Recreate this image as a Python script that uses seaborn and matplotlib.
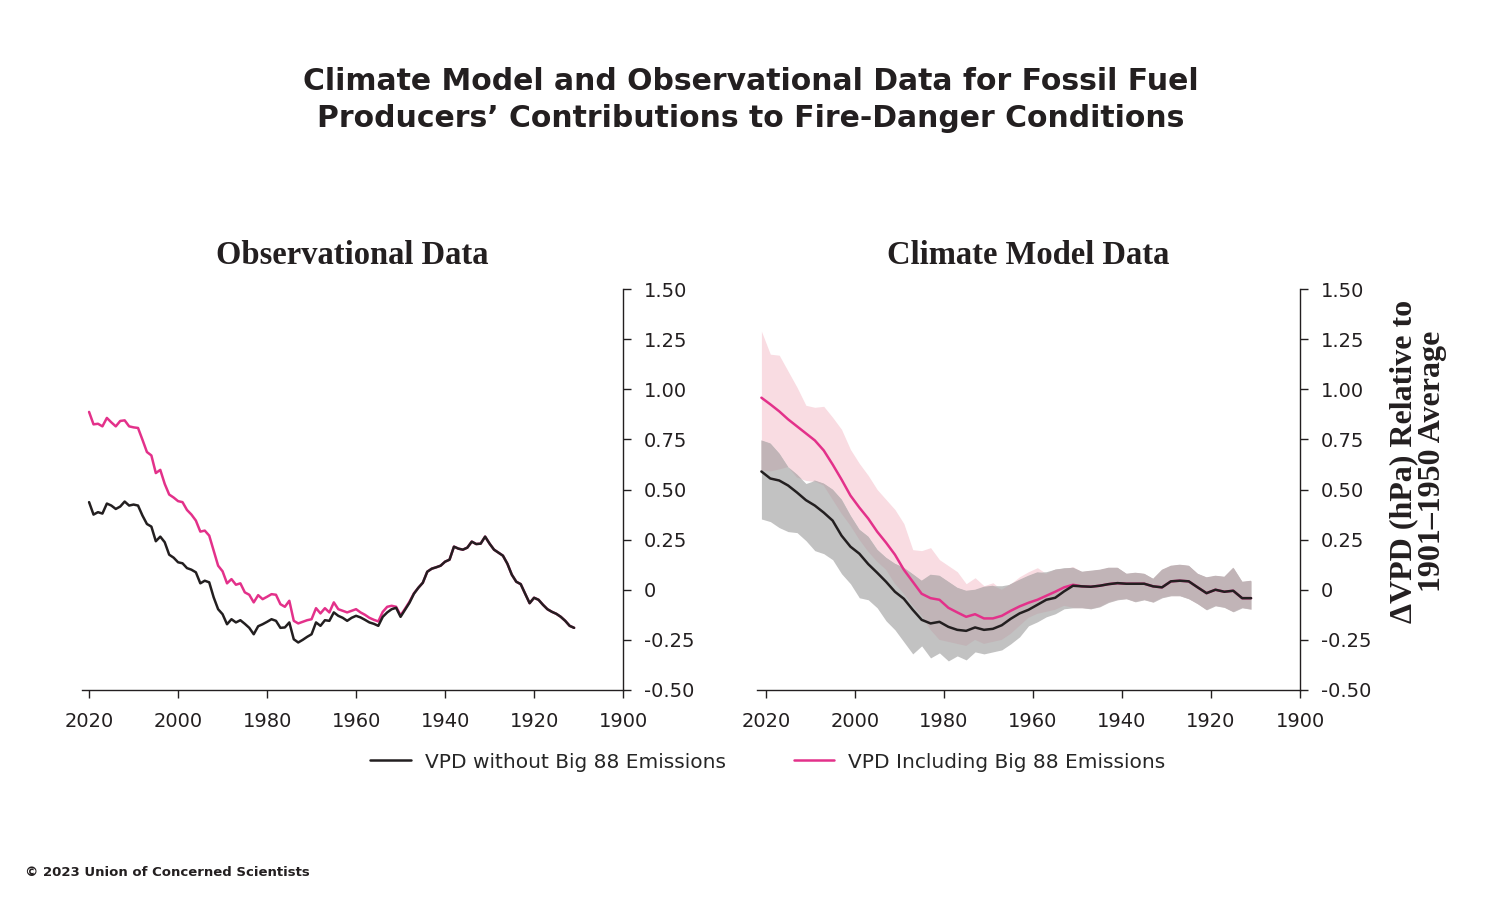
import numpy as np
import seaborn as sns
import matplotlib.pyplot as plt
from matplotlib.lines import Line2D

# ---- observational data (annual, 1911-2020) ----
obs_years = list(range(1911, 2021))
obs_without = [
    -0.19, -0.18, -0.155, -0.135, -0.12, -0.11, -0.097, -0.075, -0.05, -0.04,
    -0.067, -0.02, 0.028, 0.04, 0.075, 0.13, 0.17, 0.185, 0.2, 0.23,
    0.265, 0.23, 0.228, 0.24, 0.21, 0.2, 0.205, 0.215, 0.15, 0.14,
    0.12, 0.112, 0.105, 0.09, 0.035, 0.01, -0.02, -0.065, -0.1, -0.135,
    -0.09, -0.097, -0.113, -0.135, -0.18, -0.17, -0.163, -0.15, -0.138, -0.13,
    -0.14, -0.155, -0.14, -0.13, -0.113, -0.155, -0.152, -0.18, -0.163, -0.222,
    -0.235, -0.25, -0.263, -0.247, -0.163, -0.188, -0.19, -0.155, -0.147, -0.16,
    -0.172, -0.182, -0.222, -0.19, -0.17, -0.152, -0.163, -0.147, -0.172, -0.122,
    -0.097, -0.038, 0.037, 0.045, 0.032, 0.087, 0.1, 0.108, 0.132, 0.137,
    0.16, 0.175, 0.237, 0.265, 0.242, 0.315, 0.328, 0.37, 0.42, 0.425,
    0.42, 0.44, 0.415, 0.403, 0.42, 0.43, 0.38, 0.387, 0.375, 0.437,
]
obs_with = [
    -0.19, -0.18, -0.155, -0.135, -0.12, -0.11, -0.097, -0.075, -0.05, -0.04,
    -0.067, -0.02, 0.028, 0.04, 0.075, 0.13, 0.17, 0.185, 0.2, 0.23,
    0.265, 0.23, 0.228, 0.24, 0.21, 0.2, 0.205, 0.215, 0.15, 0.14,
    0.12, 0.112, 0.105, 0.09, 0.035, 0.01, -0.018, -0.06, -0.095, -0.128,
    -0.085, -0.08, -0.085, -0.11, -0.158, -0.15, -0.14, -0.125, -0.113, -0.097,
    -0.105, -0.113, -0.105, -0.097, -0.063, -0.113, -0.092, -0.118, -0.092, -0.147,
    -0.152, -0.16, -0.168, -0.155, -0.055, -0.085, -0.072, -0.025, -0.022, -0.035,
    -0.047, -0.027, -0.063, -0.025, -0.013, 0.032, 0.025, 0.053, 0.032, 0.092,
    0.12, 0.195, 0.27, 0.295, 0.29, 0.345, 0.375, 0.398, 0.437, 0.442,
    0.46, 0.475, 0.528, 0.598, 0.582, 0.67, 0.687, 0.748, 0.807, 0.81,
    0.815, 0.845, 0.842, 0.815, 0.835, 0.857, 0.815, 0.828, 0.825, 0.887,
]

# ---- climate model data (every 2 years, 1911-2021) ----
model_years = list(range(1911, 2022, 2))
model_with = [
    -0.042, -0.042, -0.005, -0.01, 0.0, -0.017, 0.012, 0.042, 0.045, 0.042,
    0.012, 0.017, 0.03, 0.03, 0.03, 0.033, 0.028, 0.02, 0.015, 0.017,
    0.025, 0.012, -0.01, -0.03, -0.05, -0.065, -0.083, -0.105, -0.13, -0.143,
    -0.143, -0.122, -0.135, -0.113, -0.09, -0.05, -0.042, -0.02, 0.04, 0.1,
    0.175, 0.235, 0.29, 0.355, 0.41, 0.47, 0.55, 0.625, 0.695, 0.745,
    0.78, 0.815, 0.85, 0.89, 0.925, 0.958,
]
model_without = [
    -0.042, -0.042, -0.005, -0.01, 0.0, -0.017, 0.012, 0.042, 0.045, 0.042,
    0.012, 0.017, 0.03, 0.03, 0.03, 0.033, 0.028, 0.02, 0.015, 0.017,
    0.02, -0.008, -0.04, -0.05, -0.075, -0.1, -0.118, -0.145, -0.177, -0.195,
    -0.2, -0.188, -0.205, -0.2, -0.185, -0.16, -0.168, -0.15, -0.1, -0.045,
    -0.01, 0.04, 0.085, 0.128, 0.18, 0.215, 0.27, 0.345, 0.385, 0.42,
    0.447, 0.485, 0.52, 0.545, 0.555, 0.59,
]
model_with_hi = [
    0.045, 0.04, 0.11, 0.065, 0.07, 0.062, 0.08, 0.12, 0.125, 0.12,
    0.1, 0.055, 0.08, 0.085, 0.08, 0.11, 0.11, 0.1, 0.095, 0.09,
    0.115, 0.105, 0.1, 0.08, 0.11, 0.09, 0.065, 0.03, 0.0, 0.035,
    0.02, 0.06, 0.03, 0.09, 0.12, 0.15, 0.21, 0.195, 0.2, 0.33,
    0.4, 0.45, 0.5, 0.57, 0.63, 0.7, 0.8, 0.86, 0.915, 0.91,
    0.92, 1.01, 1.09, 1.17, 1.175, 1.29,
]
model_with_lo = [
    -0.097, -0.09, -0.11, -0.088, -0.08, -0.1, -0.07, -0.045, -0.03, -0.03,
    -0.04, -0.062, -0.05, -0.06, -0.045, -0.05, -0.063, -0.085, -0.095, -0.09,
    -0.09, -0.08, -0.1, -0.11, -0.12, -0.14, -0.18, -0.22, -0.25, -0.26,
    -0.27, -0.25, -0.28, -0.27, -0.26, -0.25, -0.2, -0.13, -0.08, -0.02,
    0.03, 0.1, 0.14, 0.19, 0.25, 0.32, 0.38, 0.45, 0.52, 0.54,
    0.545, 0.56, 0.612, 0.6, 0.59, 0.595,
]
model_without_hi = [
    0.045, 0.04, 0.11, 0.065, 0.07, 0.062, 0.08, 0.12, 0.125, 0.12,
    0.1, 0.055, 0.08, 0.085, 0.08, 0.11, 0.11, 0.1, 0.095, 0.09,
    0.11, 0.11, 0.103, 0.09, 0.087, 0.07, 0.05, 0.028, 0.02, 0.02,
    0.015, 0.0, -0.005, 0.01, 0.04, 0.07, 0.075, 0.045, 0.078, 0.11,
    0.13, 0.16, 0.2, 0.265, 0.3, 0.37, 0.45, 0.5, 0.53, 0.545,
    0.53, 0.575, 0.612, 0.68, 0.73, 0.745,
]
model_without_lo = [
    -0.097, -0.09, -0.11, -0.088, -0.08, -0.1, -0.07, -0.045, -0.03, -0.03,
    -0.04, -0.062, -0.05, -0.06, -0.045, -0.05, -0.063, -0.085, -0.095, -0.09,
    -0.09, -0.095, -0.12, -0.135, -0.16, -0.18, -0.235, -0.27, -0.3, -0.31,
    -0.32, -0.31, -0.35, -0.33, -0.355, -0.315, -0.34, -0.28, -0.32, -0.26,
    -0.2, -0.155, -0.09, -0.05, -0.04, 0.03, 0.08, 0.15, 0.18, 0.195,
    0.245, 0.285, 0.29, 0.31, 0.34, 0.353,
]

x_ticks = [1900, 1920, 1940, 1960, 1980, 2000, 2020]
y_ticks = [-0.5, -0.25, 0, 0.25, 0.5, 0.75, 1.0, 1.25, 1.5]
y_ticklabels = ['-0.50', '-0.25', '0', '0.25', '0.50', '0.75', '1.00', '1.25', '1.50']

sns.set_theme(style="white")
plt.rcParams['font.family'] = ['DejaVu Sans']
serif = ['Liberation Serif', 'DejaVu Serif']

PINK = '#E3318A'
BLACK = '#231F20'

fig = plt.figure(figsize=(15.01, 9.01), dpi=100)
ax_obs = fig.add_axes([0.0546, 0.2342, 0.3605, 0.445])
ax_mod = fig.add_axes([0.5043, 0.2342, 0.3618, 0.445])

# model bands
yrs = np.array(model_years)
w_lo, w_hi = np.array(model_with_lo), np.array(model_with_hi)
k_lo, k_hi = np.array(model_without_lo), np.array(model_without_hi)
ax_mod.fill_between(yrs, w_lo, w_hi, color='#F9DCE2', lw=0)
ax_mod.fill_between(yrs, k_lo, k_hi, color='#C2C2C2', lw=0)
ov_lo, ov_hi = np.maximum(w_lo, k_lo), np.minimum(w_hi, k_hi)
ax_mod.fill_between(yrs, ov_lo, ov_hi, where=ov_hi > ov_lo, interpolate=True,
                    color='#C1B4B7', lw=0)
sns.lineplot(x=model_years, y=model_with, color=PINK, lw=1.8, ax=ax_mod)
sns.lineplot(x=model_years, y=model_without, color=BLACK, lw=1.8, ax=ax_mod)

sns.lineplot(x=obs_years, y=obs_with, color=PINK, lw=1.8, ax=ax_obs)
sns.lineplot(x=obs_years, y=obs_without, color=BLACK, lw=1.8, ax=ax_obs)

for ax, title, xl in [(ax_obs, 'Observational Data', 2021.6),
                      (ax_mod, 'Climate Model Data', 2022.0)]:
    ax.set_xlim(xl, 1900)
    ax.set_ylim(-0.5, 1.5)
    ax.yaxis.tick_right()
    ax.set_xticks(x_ticks)
    ax.set_yticks(y_ticks)
    ax.set_yticklabels(y_ticklabels)
    ax.set_xlabel('')
    ax.set_ylabel('')
    for s in ['left', 'top']:
        ax.spines[s].set_visible(False)
    for s in ['right', 'bottom']:
        ax.spines[s].set_color(BLACK)
        ax.spines[s].set_linewidth(1.0)
    ax.tick_params(axis='x', bottom=True, length=6, width=1, color=BLACK,
                   labelsize=14, pad=10, labelcolor=BLACK)
    ax.tick_params(axis='y', right=True, left=False, length=6, width=1,
                   color=BLACK, labelsize=14, pad=9, labelcolor=BLACK)
    ax.set_title(title, family=serif, weight='bold', fontsize=23.5, pad=18,
                 color=BLACK)

fig.text(0.5, 1 - 100 / 901,
         'Climate Model and Observational Data for Fossil Fuel\n'
         'Producers\u2019 Contributions to Fire-Danger Conditions',
         ha='center', va='center', fontsize=21.5, weight='bold',
         linespacing=1.35, color=BLACK)

fig.text(1418 / 1501, 1 - 461 / 901,
         '\u0394VPD (hPa) Relative to\n1901\u20131950 Average',
         rotation=90, ha='center', va='center', family=serif, weight='bold',
         fontsize=23, linespacing=1.0, color=BLACK)

handles = [Line2D([], [], color=BLACK, lw=1.8), Line2D([], [], color=PINK, lw=1.8)]
fig.legend(handles, ['VPD without Big 88 Emissions', 'VPD Including Big 88 Emissions'],
           loc='center', bbox_to_anchor=(768 / 1501, 1 - 762 / 901), ncol=2,
           frameon=False, fontsize=14.5, handlelength=2.0, handletextpad=0.7,
           columnspacing=3.4)

fig.text(25 / 1501, 1 - 873 / 901, '\u00a9 2023 Union of Concerned Scientists',
         ha='left', va='center', fontsize=9.5, weight='bold', color=BLACK)

fig.savefig('out.png', dpi=100)
